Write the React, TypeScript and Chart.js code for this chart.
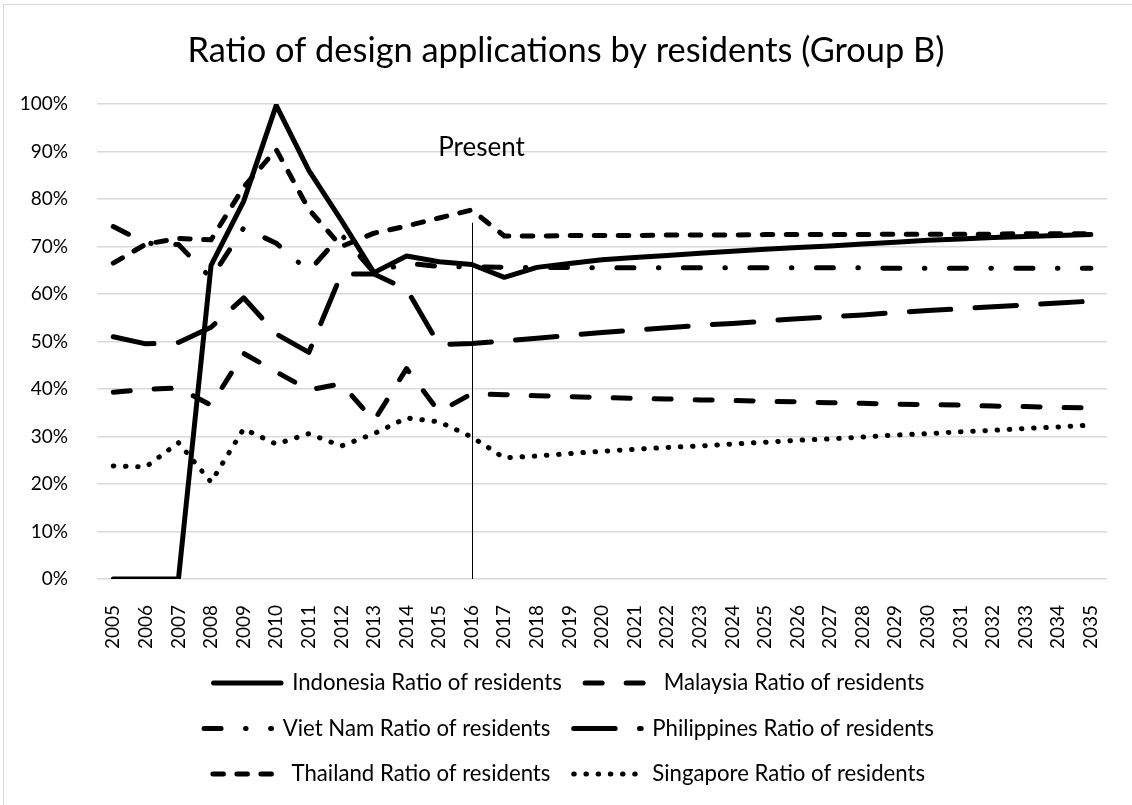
import React, { useEffect, useRef } from 'react';
import { Chart, registerables } from 'chart.js';

Chart.register(...registerables);

const YEARS = [
  '2005', '2006', '2007', '2008', '2009', '2010', '2011', '2012', '2013', '2014', '2015',
  '2016', '2017', '2018', '2019', '2020', '2021', '2022', '2023', '2024', '2025', '2026',
  '2027', '2028', '2029', '2030', '2031', '2032', '2033', '2034', '2035',
];

const INDONESIA = [0, 0, 0, 66, 79.5, 99.7, 86, 75.5, 64.5, 68, 66.8, 66.2, 63.5, 65.6, 66.4, 67.2, 67.7, 68.1, 68.6, 69.0, 69.4, 69.8, 70.1, 70.5, 70.9, 71.3, 71.6, 71.9, 72.1, 72.3, 72.5];
const MALAYSIA = [39.3, 39.9, 40.2, 36.6, 47.5, 43.6, 39.8, 41.1, 33.3, 44.3, 35.2, 39.0, 38.8, 38.6, 38.4, 38.2, 38.0, 37.9, 37.7, 37.6, 37.4, 37.3, 37.1, 37.0, 36.8, 36.7, 36.6, 36.4, 36.3, 36.1, 36.0];
const VIET_NAM = [74.2, 70.7, 70.4, 63.3, 73.9, 70.7, 64.8, 72.5, 64.5, 66.5, 65.8, 65.7, 65.6, 65.6, 65.6, 65.5, 65.5, 65.5, 65.5, 65.5, 65.5, 65.5, 65.5, 65.5, 65.4, 65.4, 65.4, 65.4, 65.4, 65.4, 65.4];
const PHILIPPINES = [51, 49.5, 49.8, 53, 59.2, 51.6, 47.7, 64.2, 64.2, 61, 49.3, 49.6, 50.1, 50.7, 51.3, 51.9, 52.4, 52.9, 53.4, 53.8, 54.3, 54.8, 55.2, 55.6, 56.1, 56.5, 56.9, 57.3, 57.7, 58.1, 58.5];
const THAILAND = [66.5, 70.5, 71.7, 71.4, 82.5, 90.4, 77.8, 70, 72.8, 74.3, 76, 77.7, 72.2, 72.2, 72.3, 72.3, 72.3, 72.4, 72.4, 72.4, 72.5, 72.5, 72.5, 72.5, 72.6, 72.6, 72.6, 72.6, 72.7, 72.7, 72.7];
const SINGAPORE = [23.8, 23.6, 28.7, 20.4, 31.6, 28.4, 30.6, 28.0, 30.6, 33.9, 33.1, 29.9, 25.5, 25.9, 26.4, 26.9, 27.3, 27.7, 28.0, 28.4, 28.8, 29.2, 29.5, 29.9, 30.3, 30.6, 31.0, 31.3, 31.7, 32.0, 32.4];

const SERIES_LABELS = [
  'Indonesia Ratio of residents',
  'Malaysia Ratio of residents',
  'Viet Nam Ratio of residents',
  'Philippines Ratio of residents',
  'Thailand Ratio of residents',
  'Singapore Ratio of residents',
];

const SERIES_DASHES: number[][] = [
  [],
  [17, 24],
  [17, 24.5, 0.5, 24.5],
  [41.5, 24.3],
  [10.5, 13.5],
  [0.5, 11.7],
];

const TITLE = 'Ratio of design applications by residents (Group B)';
const Y_MIN = 0;
const Y_MAX = 100;
const Y_STEP = 10;

const PRESENT_YEAR = '2016';
const PRESENT_LABEL = 'Present';
const PRESENT_LINE_TOP = 75;
const PRESENT_LABEL_AT = 90.8;

const FONT = 'Lato, "Open Sans", sans-serif';
const LEGEND_SHIFT = 14;
const TITLE_SHIFT = 11;

export default function App() {
  const canvasRef = useRef<HTMLCanvasElement | null>(null);

  useEffect(() => {
    const canvas = canvasRef.current;
    if (!canvas) return;

    const presentPlugin = {
      id: 'presentMarker',
      afterLayout(chart: any) {
        if (chart.legend) {
          chart.legend.left += LEGEND_SHIFT;
          chart.legend.right += LEGEND_SHIFT;
        }
        if (chart.titleBlock) {
          chart.titleBlock.left += TITLE_SHIFT;
          chart.titleBlock.right += TITLE_SHIFT;
        }
      },
      afterDatasetsDraw(chart: any) {
        const { ctx } = chart;
        const x = chart.scales.x;
        const y = chart.scales.y;
        const idx = YEARS.indexOf(PRESENT_YEAR);
        const px = Math.round(x.getPixelForValue(idx)) + 0.5;
        ctx.save();
        ctx.strokeStyle = '#000';
        ctx.lineWidth = 1;
        ctx.setLineDash([]);
        ctx.beginPath();
        ctx.moveTo(px, y.getPixelForValue(PRESENT_LINE_TOP));
        ctx.lineTo(px, y.getPixelForValue(0));
        ctx.stroke();
        ctx.font = `26px ${FONT}`;
        ctx.fillStyle = '#000';
        ctx.textAlign = 'center';
        ctx.textBaseline = 'middle';
        ctx.fillText(PRESENT_LABEL, px + 9, y.getPixelForValue(PRESENT_LABEL_AT));
        ctx.restore();
      },
    };

    const common = {
      borderColor: '#000',
      backgroundColor: '#000',
      borderWidth: 5,
      borderCapStyle: 'round' as const,
      borderJoinStyle: 'round' as const,
      pointRadius: 0,
      pointHoverRadius: 0,
      pointStyle: 'line' as const,
      tension: 0,
      fill: false,
    };

    const seriesData = [INDONESIA, MALAYSIA, VIET_NAM, PHILIPPINES, THAILAND, SINGAPORE];

    const chart = new Chart(canvas, {
      type: 'line',
      data: {
        labels: YEARS,
        datasets: seriesData.map((d, i) => ({
          ...common,
          label: SERIES_LABELS[i],
          data: d,
          borderDash: SERIES_DASHES[i],
        })),
      },
      options: {
        responsive: false,
        animation: false,
        devicePixelRatio: 1,
        layout: { padding: { left: 0, right: 22, top: 0, bottom: 9.9 } },
        plugins: {
          title: {
            display: true,
            text: TITLE,
            color: '#000',
            font: { family: FONT, size: 34.4, weight: 'normal' },
            padding: { top: 30.4, bottom: 32.3 },
          },
          legend: {
            display: true,
            position: 'bottom',
            labels: {
              usePointStyle: true,
              pointStyleWidth: 67.5,
              color: '#000',
              font: { family: FONT, size: 22.2 },
              padding: 23.3,
              generateLabels(ch: any) {
                const items = Chart.defaults.plugins.legend.labels.generateLabels(ch);
                return items.map((it: any) => {
                  const ds = ch.data.datasets[it.datasetIndex];
                  return {
                    ...it,
                    pointStyle: 'line',
                    lineDash: ds.borderDash,
                    lineDashOffset: 0,
                    lineCap: 'round',
                    lineJoin: 'round',
                    lineWidth: 5,
                    strokeStyle: '#000',
                    fillStyle: '#000',
                  };
                });
              },
            },
          },
          tooltip: { enabled: false },
        },
        scales: {
          x: {
            type: 'category',
            offset: true,
            grid: { display: false },
            border: { display: false },
            ticks: {
              autoSkip: false,
              minRotation: 90,
              maxRotation: 90,
              padding: 18,
              color: '#000',
              font: { family: FONT, size: 19 },
            },
            afterFit(scale: any) {
              scale.height = 69.6;
            },
          },
          y: {
            min: Y_MIN,
            max: Y_MAX,
            border: { display: false },
            grid: { color: '#d9d9d9', lineWidth: 1.5, drawTicks: false },
            ticks: {
              stepSize: Y_STEP,
              padding: 29,
              color: '#000',
              font: { family: FONT, size: 19 },
              callback: (v: any) => `${v}%`,
            },
            afterFit(scale: any) {
              scale.width = 97;
            },
          },
        },
      },
      plugins: [presentPlugin],
    });

    return () => chart.destroy();
  }, []);

  return (
    <div style={{ position: 'fixed', left: 0, top: 0, width: 1132, height: 805, background: '#fff', overflow: 'hidden' }}>
      <div
        style={{
          position: 'absolute',
          left: 3,
          top: 4,
          width: 1140,
          height: 820,
          border: '1px solid #d9d9d9',
          boxSizing: 'border-box',
        }}
      />
      <canvas
        ref={canvasRef}
        width={1132}
        height={805}
        style={{ position: 'absolute', left: 0, top: 0, width: 1132, height: 805 }}
      />
    </div>
  );
}
